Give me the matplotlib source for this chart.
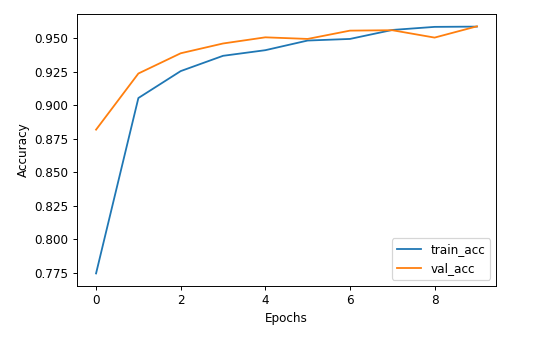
import matplotlib.pyplot as plt

epochs = list(range(10))
train_acc = [0.7745, 0.9054, 0.9255, 0.9369, 0.9411, 0.9483, 0.9495, 0.9562, 0.9585, 0.9587]
val_acc = [0.8818, 0.9237, 0.9388, 0.9461, 0.9507, 0.9495, 0.9557, 0.9560, 0.9505, 0.9589]

dpi = 86.4
fig = plt.figure(figsize=(533 / dpi, 337 / dpi), dpi=dpi)
ax = fig.add_axes([0.1445, 0.152, 0.786, 0.8065])
ax.plot(epochs, train_acc, label='train_acc')
ax.plot(epochs, val_acc, label='val_acc')
ax.set_xlabel('Epochs')
ax.set_ylabel('Accuracy')
ax.legend(loc='lower right')
fig.savefig('out.png', dpi=dpi)
